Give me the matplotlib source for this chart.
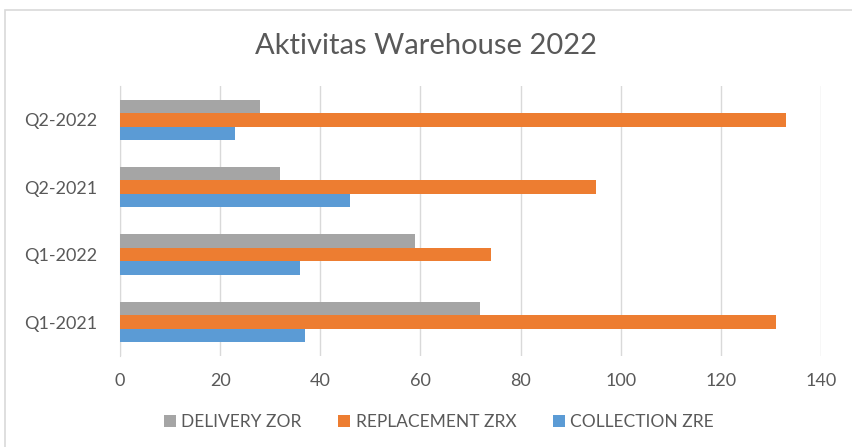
import numpy as np
from matplotlib import pyplot as plt
from matplotlib.patches import Rectangle

plt.rcParams['font.family'] = ['Lato', 'DejaVu Sans']

quarters = ['Q1-2021', 'Q1-2022', 'Q2-2021', 'Q2-2022']
delivery_zor = [72, 59, 32, 28]
replacement_zrx = [131, 74, 95, 133]
collection_zre = [37, 36, 46, 23]

fig = plt.figure(figsize=(8.52, 4.47), dpi=100)
ax = fig.add_axes([0.1408, 0.2036, 0.8228, 0.604])

y = np.arange(len(quarters))
h = 0.2
ax.barh(y + h, delivery_zor, height=h, color='#a5a5a5', label='DELIVERY ZOR', zorder=3)
ax.barh(y, replacement_zrx, height=h, color='#ed7d31', label='REPLACEMENT ZRX', zorder=3)
ax.barh(y - h, collection_zre, height=h, color='#5b9bd5', label='COLLECTION ZRE', zorder=3)

ax.set_xlim(0, 140)
ax.set_ylim(-0.5, len(quarters) - 0.5)
ax.set_xticks(range(0, 141, 20))
ax.set_yticks(y)
ax.set_yticklabels(quarters)
ax.xaxis.grid(True, color='#d9d9d9', linewidth=1, zorder=0)
for s in ['top', 'right', 'bottom']:
    ax.spines[s].set_visible(False)
ax.spines['left'].set_color('#d9d9d9')
ax.tick_params(axis='both', length=0, labelsize=13, labelcolor='#595959')
ax.tick_params(axis='y', pad=16)
ax.tick_params(axis='x', pad=12)

fig.text(0.5, 0.897, 'Aktivitas Warehouse 2022', ha='center', va='center',
         fontsize=21, color='#595959')

fig.legend(loc='center', bbox_to_anchor=(0.515, 0.055), ncol=3, frameon=False,
           fontsize=12.5, labelcolor='#595959', handlelength=0.7, handleheight=0.7,
           handletextpad=0.3, columnspacing=2.1)

fig.patches.append(Rectangle((5 / 852, -0.05), 1.1, 1.05 - 10 / 447, transform=fig.transFigure,
                             fill=False, edgecolor='#d9d9d9', linewidth=1.2))

plt.savefig('out.png')
